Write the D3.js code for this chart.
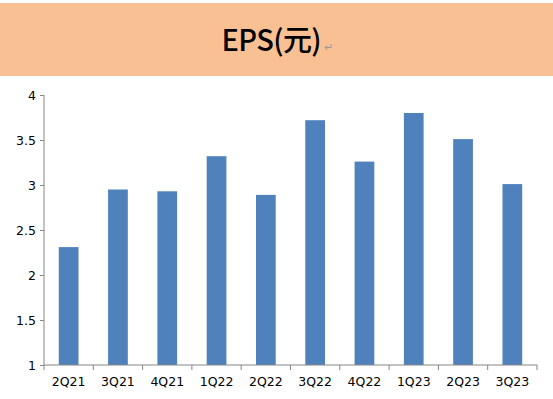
<!DOCTYPE html>
<html>
<head>
<meta charset="utf-8">
<script src="https://cdn.jsdelivr.net/npm/d3@7.9.0/dist/d3.min.js"></script>
<style>
  body { margin: 0; background: #fff; }
  svg { display: block; }
</style>
</head>
<body>
<svg id="chart" width="553" height="399"></svg>
<script>
const quarters = ['2Q21', '3Q21', '4Q21', '1Q22', '2Q22', '3Q22', '4Q22', '1Q23', '2Q23', '3Q23'];
const eps = [2.31, 2.95, 2.93, 3.32, 2.89, 3.72, 3.26, 3.80, 3.51, 3.01];
const yTicks = [1, 1.5, 2, 2.5, 3, 3.5, 4];

const svg = d3.select('#chart');
const W = 553;

// title banner
svg.append('rect')
  .attr('x', 0).attr('y', 3)
  .attr('width', W).attr('height', 73)
  .attr('fill', '#f9c193');

const title = svg.append('text')
  .attr('x', 277).attr('y', 51)
  .attr('text-anchor', 'middle')
  .attr('font-family', '"Noto Sans CJK TC", "Noto Sans", sans-serif')
  .attr('font-size', 29)
  .attr('font-weight', 500)
  .attr('letter-spacing', -0.6)
  .attr('fill', '#000');
title.append('tspan').text('EPS(元)');
title.append('tspan')
  .attr('font-size', 11)
  .attr('fill', '#999')
  .attr('dx', 3)
  .text('↵');

const left = 44, right = 537;
const x = d3.scaleBand()
  .domain(quarters)
  .range([left, right])
  .paddingInner(0.6)
  .paddingOuter(0.3);
const y = d3.scaleLinear()
  .domain([1, 4])
  .range([365, 95]);

svg.selectAll('rect.bar')
  .data(quarters)
  .join('rect')
  .attr('class', 'bar')
  .attr('x', d => x(d))
  .attr('width', x.bandwidth())
  .attr('y', (d, i) => y(eps[i]))
  .attr('height', (d, i) => y(1) - y(eps[i]))
  .attr('fill', '#4f81bd');

const axisColor = '#868686';
const font = '"DejaVu Sans", Verdana, sans-serif';

// y axis
const yAxis = svg.append('g')
  .attr('transform', `translate(${left},0)`)
  .call(d3.axisLeft(y).tickValues(yTicks).tickSize(4).tickPadding(4).tickFormat(d3.format('')));
yAxis.select('.domain').attr('stroke', axisColor).attr('d', `M0,${y(4)}V${y(1)}`);
yAxis.selectAll('.tick line').attr('stroke', axisColor);
yAxis.selectAll('.tick text')
  .attr('fill', '#000')
  .attr('font-family', font)
  .attr('font-size', 12.5);

// x axis, ticks sit between categories
const xAxis = svg.append('g')
  .attr('transform', `translate(0,${y(1)})`)
  .call(d3.axisBottom(x).tickSize(0).tickPadding(12));
xAxis.select('.domain').attr('stroke', axisColor).attr('d', `M${left},0H${right}`);
xAxis.selectAll('.tick text')
  .attr('fill', '#000')
  .attr('font-family', font)
  .attr('font-size', 12.5);

const bounds = d3.range(quarters.length + 1).map(i => left + i * (right - left) / quarters.length);
xAxis.selectAll('line.sep')
  .data(bounds)
  .join('line')
  .attr('class', 'sep')
  .attr('x1', d => d).attr('x2', d => d)
  .attr('y1', 0).attr('y2', 5)
  .attr('stroke', axisColor);
</script>
</body>
</html>
